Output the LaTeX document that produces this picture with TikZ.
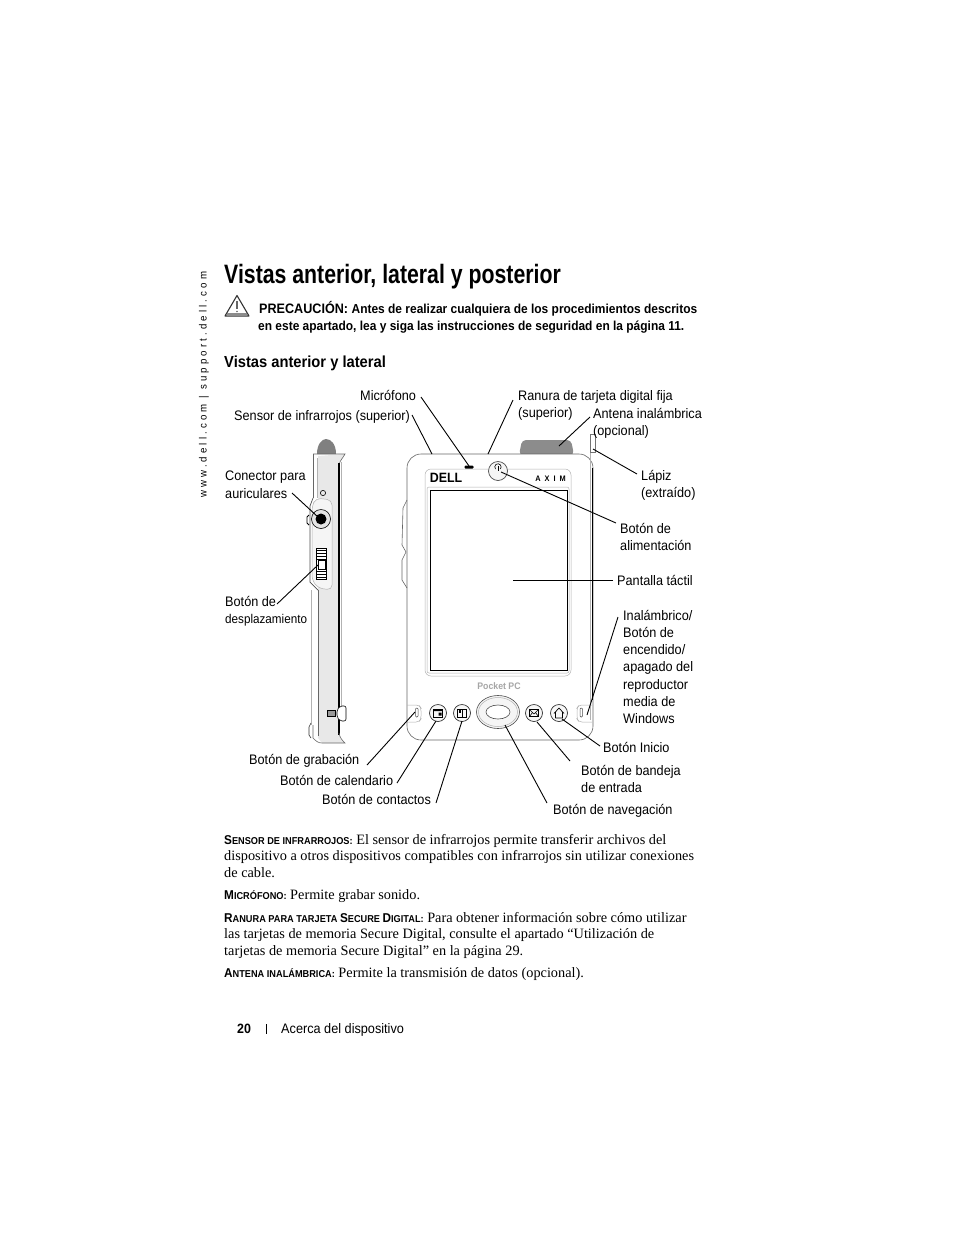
\documentclass[tikz,border=0pt]{standalone}
\usepackage{fontspec}
\usetikzlibrary{shapes.geometric}
\setmainfont{Liberation Serif}
\setsansfont{Liberation Sans}[FakeStretch=0.92]
\newfontfamily\titlefont{Liberation Sans}[FakeStretch=0.8]
\tikzset{
    lbl/.style={anchor=base west,inner sep=0pt,font=\sffamily\fontsize{13.8}{17.2}\selectfont,align=left},
    lblm/.style={anchor=north west,inner sep=0pt,font=\sffamily\fontsize{13.8}{17.2}\selectfont,align=left},
    head/.style={anchor=base west,inner sep=0pt,font=\sffamily\bfseries},
    body/.style={anchor=base west,inner sep=0pt,font=\fontsize{14.3}{16.5}\selectfont},
    leader/.style={draw=black,line width=0.9pt},
    keybtn/.style={circle,draw=black!80,line width=0.7pt,fill=black!3,minimum size=17pt,inner sep=0pt},
    thinline/.style={draw=black!30,line width=0.5pt},
    devline/.style={draw=black!60,line width=0.6pt}
}
\newcommand{\capsa}[2]{{\sffamily\bfseries\fontsize{12.8}{16}\selectfont #1\fontsize{10}{16}\selectfont #2}}
\begin{document}
\begin{tikzpicture}[x=1pt,y=-1pt]
    \useasboundingbox (0,0) rectangle (954,1235);
    % Texto del margen
    \node[rotate=90,anchor=west,inner sep=0pt,font=\sffamily\fontsize{10.5}{12}\selectfont] (margen) at (204,498) {\addfontfeature{LetterSpace=30}www.dell.com | support.dell.com};
    % Titulos
    \node[head,font=\titlefont\bfseries\fontsize{26.6}{30}\selectfont] (titulo) at (224,283.5) {Vistas anterior, lateral y posterior};
    \node[head,font=\sffamily\bfseries\fontsize{13.7}{17}\selectfont] (prec) at (259,313) {PRECAUCIÓN: \fontsize{13}{17}\selectfont Antes de realizar cualquiera de los procedimientos descritos};
    \node[head,font=\sffamily\bfseries\fontsize{13}{17}\selectfont] (prec2) at (258,330) {en este apartado, lea y siga las instrucciones de seguridad en la página 11.};
    \node[head,font=\sffamily\bfseries\fontsize{16}{18}\selectfont] (seccion) at (224,367.5) {Vistas anterior y lateral};
    % Triangulo de aviso
    \draw[black!80,line width=1.1pt,fill=white,line join=round] (237,295.5) -- (249,316) -- (225,316) -- cycle;
    \fill[black!45] (227,313) rectangle (247,315.5);
    \draw[black!60,line width=1.2pt] (237,301) -- (237,309);
    \fill[black!60] (237,311.5) circle (0.9);

    % Vista lateral
    \fill[black!50] (317,454) .. controls (317,444) and (322,439) .. (326,439) .. controls (331,439) and (336,444) .. (336,454) -- cycle;
    \fill[black!9] (318,456) -- (345,454) .. controls (343,458) and (340,460) .. (339,465) -- (339,733) .. controls (340,738) and (342,740) .. (345,743) -- (322,743) -- (318,738) -- cycle;
    \draw[devline] (313,454) -- (345,454) .. controls (343,458) and (340,460) .. (339,465);
    \draw[black,line width=1.2pt] (339,463) -- (339,735);
    \draw[thinline] (341.5,462) -- (341.5,706);
    \draw[devline] (313,454) -- (313,498) (318,590) -- (318,736);
    \draw[thinline] (317,458) -- (317,498) (311,590) -- (311,725);
    \draw[devline] (313,725) -- (313,738) .. controls (316,741) and (318,743) .. (322,743) -- (345,743) .. controls (342,740) and (340,738) .. (339,733);
    \draw[thinline,rounded corners=5pt,fill=black!4] (316,498) -- (332,500) -- (332,590) -- (318,588) -- (312,580) -- (312,506) -- cycle;
    \draw[black!70,line width=0.7pt] (313,498) -- (310,506) -- (310,582) -- (318,590);
    \draw[black,line width=0.8pt] (309,515) -- (307,517) -- (307,523) -- (309,525);
    \draw[black,line width=0.6pt] (323,493) circle (2.6);
    \node[circle,fill=black!10,draw=black,line width=0.6pt,minimum size=19pt,inner sep=0pt] (jack) at (321,519) {};
    \fill[black] (jack) circle (5.5);
    \node[draw=black,fill=white,line width=1pt,minimum width=10pt,minimum height=31pt,inner sep=0pt] (rueda) at (321,564) {};
    \foreach \y in {550,553,556,559,571,574,577}
    \draw[black,line width=0.8pt] (316,\y) -- (326,\y);
    \draw[black,line width=0.8pt,fill=white] (318,560) rectangle (325,569);
    \draw[black,line width=0.6pt,fill=black!40] (327,710) rectangle (335,716);
    \draw[black,line width=0.6pt,fill=white,rounded corners=2pt] (346,706) -- (340,706) -- (337,710) -- (337,717) -- (340,721) -- (346,721) -- cycle;
    \draw[black!80,line width=0.6pt] (311,723) -- (309,727) -- (309,735) -- (311,738);

    % Vista frontal
    \fill[black!45,rounded corners=4pt] (519,455) -- (522,440) -- (571,440) -- (574,455) -- cycle;
    \draw[devline,fill=white,rounded corners=14pt] (407,454) -- (593,454) -- (593,740) -- (407,740) -- cycle;
    \draw[black,line width=1.1pt] (592.5,468) -- (592.5,700);
    \draw[thinline] (590,450) -- (590,720);
    \draw[black!55,line width=0.5pt,fill=white] (590,434) rectangle (595,452);
    \draw[devline] (407,500) -- (403,508) -- (402,545) -- (406,552) -- (402,560) -- (402,580) -- (407,588);
    \draw[thinline,rounded corners=6pt] (425,484) -- (425,469) -- (571,469) -- (571,676) -- (425,676) -- cycle;
    \draw[thinline,rounded corners=2pt] (427,487) rectangle (569,673);
    \node[draw=black,line width=0.9pt,minimum width=137pt,minimum height=180pt,inner sep=0pt] (pantalla) at (498.5,580) {};
    \node[fill=black,rounded corners=1pt,minimum width=9pt,minimum height=3pt,inner sep=0pt] (micro) at (469,467) {};
    \node[inner sep=0pt,font=\sffamily\bfseries\fontsize{13.5}{15}\selectfont] (dell) at (446,478) {DELL};
    \node[inner sep=0pt,font=\sffamily\bfseries\fontsize{8}{9}\selectfont] (axim) at (550.5,479) {A\,\,\,X\,\,\,I\,\,\,M};
    \node[inner sep=0pt,font=\sffamily\bfseries\fontsize{9.5}{10}\selectfont,text=black!35] (pocket) at (499,686) {Pocket PC};
    % Boton de encendido
    \node[circle,draw=black!70,line width=0.7pt,fill=black!4,minimum size=19pt,inner sep=0pt] (encendido) at (498,471) {};
    \draw[black,line width=0.6pt] (495.5,469) arc (140:400:3.2);
    \draw[black,line width=0.6pt] (498,466) -- (498,471);
    % Botones inferiores
    \foreach \x/\n in {438/calendario,462/contactos,534/correo,559/inicio}
    \node[keybtn] (\n) at (\x,713) {};
    \draw[black,line width=0.6pt] (433.5,709) rectangle (442.5,717);
    \fill[black] (433.5,709) rectangle (442.5,711) (438.5,712.5) rectangle (441.5,715.5);
    \draw[black,line width=0.6pt] (457.5,709) rectangle (466.5,717) (462,709) -- (462,717);
    \fill[black] (458.5,710) rectangle (461,713);
    \draw[black,line width=0.6pt] (529.5,709.5) rectangle (538.5,716.5) (529.5,709.5) -- (534,714) -- (538.5,709.5) (529.5,716.5) -- (532.5,712.5) (538.5,716.5) -- (535.5,712.5);
    \draw[black,line width=0.7pt,line join=round] (554,713.5) -- (559,708) -- (564,713.5) (555.5,712) -- (555.5,718) -- (562.5,718) -- (562.5,712);
    \node[ellipse,draw=black!70,line width=0.6pt,fill=black!4,minimum width=43pt,minimum height=33pt,inner sep=0pt] (navega) at (498,712) {};
    \draw[thinline] (498,712) ellipse (19.5 and 14.5);
    \node[ellipse,draw=black!70,line width=0.6pt,fill=white,minimum width=24pt,minimum height=14pt,inner sep=0pt] (navint) at (498,712) {};
    % Botones de los lados
    \draw[thinline,rounded corners=3pt] (407,705) -- (419,705) -- (421,708) -- (421,719) -- (419,722) -- (407,722);
    \draw[black!70,line width=0.5pt,rounded corners=1pt] (415.5,708) rectangle (418,717);
    \draw[thinline,rounded corners=3pt] (592,705) -- (579,705) -- (577,708) -- (577,719) -- (579,722) -- (592,722);
    \draw[black!70,line width=0.5pt,rounded corners=1pt] (580,708) rectangle (582.5,717);

    % Rotulos
    \node[lbl] (lmic) at (360,400.5) {Micrófono};
    \node[lbl] (lsen) at (234,420.5) {Sensor de infrarrojos (superior)};
    \node[lblm] (lran) at (518,390) {Ranura de tarjeta digital fija\\(superior)};
    \node[lblm] (lant) at (593,408) {Antena inalámbrica\\(opcional)};
    \node[lblm] (llap) at (641,470) {Lápiz\\(extraído)};
    \node[lblm] (lcon) at (225,471) {Conector para\\auriculares};
    \node[lblm] (ldes) at (225,596) {Botón de\\{\fontsize{12.7}{17.2}\selectfont desplazamiento}};
    \node[lblm] (lali) at (620,523) {Botón de\\alimentación};
    \node[lbl] (lpan) at (617,585.5) {Pantalla táctil};
    \node[lblm] (lina) at (623,610) {Inalámbrico/\\Botón de\\encendido/\\apagado del\\reproductor\\media de\\Windows};
    \node[lbl] (lini) at (603,752.5) {Botón Inicio};
    \node[lblm] (lban) at (581,765) {Botón de bandeja\\de entrada};
    \node[lbl] (lnav) at (553,814.5) {Botón de navegación};
    \node[lbl] (lgra) at (249,764.5) {Botón de grabación};
    \node[lbl] (lcal) at (280,785.5) {Botón de calendario};
    \node[lbl] (lcon2) at (322,804.5) {Botón de contactos};

    % Extremos de las lineas
    \foreach \n/\x/\y in {a1/421/397,a2/469/466,b1/412/415,b2/432/454,c1/513/400,c2/488/454,d1/590/417,d2/559/446,
        e1/637/474,e2/593/449,f1/292/493,f2/318/517,g1/277/604,g2/318/565,h1/616/523,h2/501/472,
        i1/613/580,i2/513/580,j1/618/617,j2/587/715,k1/600/746,k2/562/719,l1/570/761,l2/537/722,
        m1/547/803,m2/505/725,n1/367/765,n2/415/712,o1/397/783,o2/436/721,p1/436/803,p2/462/721}
    \coordinate (\n) at (\x,\y);
    \foreach \p/\q in {a1/a2,b1/b2,c1/c2,d1/d2,e1/e2,f1/f2,g1/g2,h1/h2,i1/i2,j1/j2,k1/k2,l1/l2,m1/m2,n1/n2,o1/o2,p1/p2}
    \draw[leader] (\p) -- (\q);

    % Texto
    \node[body] (t1) at (224,844) {\capsa{S}{ENSOR DE INFRARROJOS:} El sensor de infrarrojos permite transferir archivos del};
    \node[body] (t2) at (224,860.5) {dispositivo a otros dispositivos compatibles con infrarrojos sin utilizar conexiones};
    \node[body] (t3) at (224,877) {de cable.};
    \node[body] (t4) at (224,899) {\capsa{M}{ICRÓFONO:} Permite grabar sonido.};
    \node[body] (t5) at (224,922) {\capsa{R}{ANURA PARA TARJETA }\capsa{S}{ECURE }\capsa{D}{IGITAL:} Para obtener información sobre cómo utilizar};
    \node[body] (t6) at (224,938.5) {las tarjetas de memoria Secure Digital, consulte el apartado “Utilización de};
    \node[body] (t7) at (224,955) {tarjetas de memoria Secure Digital” en la página 29.};
    \node[body] (t8) at (224,977) {\capsa{A}{NTENA INALÁMBRICA:} Permite la transmisión de datos (opcional).};

    % Pie de pagina
    \node[head,font=\sffamily\bfseries\fontsize{13.5}{16}\selectfont] (pagina) at (237,1033) {20};
    \node[lbl] (pie) at (281,1033) {Acerca del dispositivo};
    \coordinate (s1) at (266,1024);
    \coordinate (s2) at (266,1034);
    \draw[black,line width=0.6pt] (s1) -- (s2);
\end{tikzpicture}
\end{document}
